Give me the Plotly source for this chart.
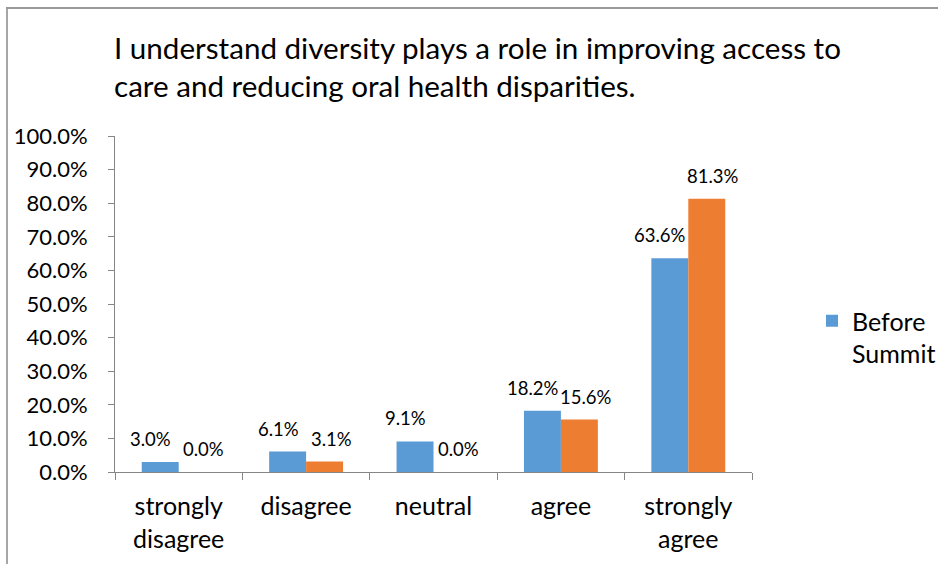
import plotly.graph_objects as go

categories = ["strongly<br>disagree", "disagree", "neutral", "agree", "strongly<br>agree"]
before_summit = [3.0, 6.1, 9.1, 18.2, 63.6]
after_summit = [0.0, 3.1, 0.0, 15.6, 81.3]
y_ticks = [0, 10, 20, 30, 40, 50, 60, 70, 80, 90, 100]
title_text = "I understand diversity plays a role in improving access to<br>care and reducing oral health disparities."

BLUE = "#5B9BD5"
ORANGE = "#ED7D31"
AXIS = "#868686"
FONT = "Lato"

W, H = 938, 564
L, R, T, B = 115, 186, 136, 92
pw, ph = W - L - R, H - T - B

def px_x(p):
    return (p - L) / pw

def px_y(p):
    return (H - B - p) / ph

fig = go.Figure()
fig.add_trace(go.Bar(x=categories, y=before_summit, name="Before<br>Summit",
                     marker=dict(color=BLUE, line=dict(width=0))))
fig.add_trace(go.Bar(x=categories, y=after_summit, name="After Summit",
                     marker=dict(color=ORANGE, line=dict(width=0)), showlegend=False))

annotations = []
for vals, dx in ((before_summit, -28), (after_summit, 25)):
    for c, v in zip(categories, vals):
        annotations.append(dict(x=c, y=v, xref="x", yref="y", text=f"{v:.1f}%",
                                showarrow=False, xshift=dx, yshift=23,
                                xanchor="center", yanchor="middle",
                                font=dict(family=FONT, size=18.5, color="#000000")))

annotations.append(dict(x=px_x(112), y=px_y(28), xref="paper", yref="paper",
                        text=title_text, showarrow=False, xanchor="left", yanchor="top",
                        align="left", font=dict(family=FONT, size=29.6, color="#000000")))

fig.update_layout(
    width=W, height=H,
    margin=dict(l=L, r=R, t=T, b=B, autoexpand=False),
    paper_bgcolor="white", plot_bgcolor="white",
    barmode="group", bargap=0.42, bargroupgap=0,
    font=dict(family=FONT, color="#000000"),
    showlegend=True,
    legend=dict(x=px_x(812), y=px_y(298), xanchor="left", yanchor="top",
                valign="top", font=dict(family=FONT, size=25, color="#000000"),
                bgcolor="rgba(0,0,0,0)", itemsizing="constant"),
    annotations=annotations,
    shapes=[
        dict(type="line", xref="paper", yref="paper", x0=px_x(7), x1=px_x(7),
             y0=px_y(8), y1=px_y(600), line=dict(color="#A6A6A6", width=2)),
        dict(type="line", xref="paper", yref="paper", x0=px_x(6), x1=px_x(1000),
             y0=px_y(8), y1=px_y(8), line=dict(color="#999999", width=2)),
    ],
)

fig.update_xaxes(
    showline=True, linecolor=AXIS, linewidth=1, showgrid=False,
    ticks="outside", tickson="boundaries", ticklen=7, tickcolor=AXIS,
    ticklabelstandoff=12,
    tickfont=dict(family=FONT, size=25, color="#000000"),
)
fig.update_yaxes(
    range=[0, 100], tickvals=y_ticks, ticktext=[f"{t:.1f}%" for t in y_ticks],
    showline=True, linecolor=AXIS, linewidth=1, showgrid=False, zeroline=False,
    ticks="outside", ticklen=6, tickcolor=AXIS, ticklabelstandoff=16,
    tickfont=dict(family=FONT, size=22, color="#000000"),
)

fig.write_html("out.html")
